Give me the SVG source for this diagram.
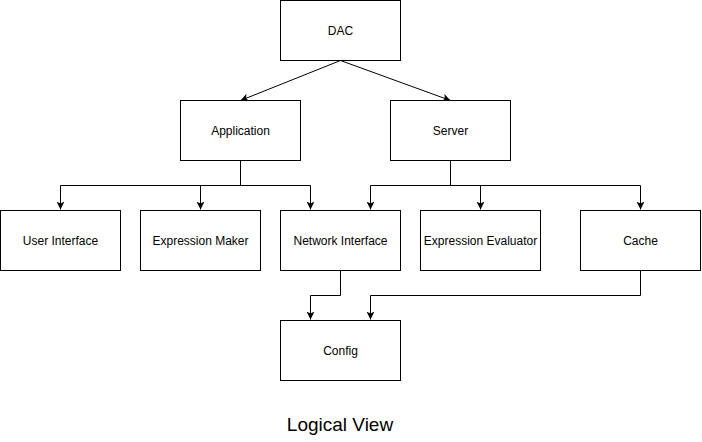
<svg xmlns="http://www.w3.org/2000/svg" width="702" height="442" viewBox="0 0 702 442">
<style>
.box{fill:#fff;stroke:#000;stroke-width:1}
.lbl{font-family:"Liberation Sans",Arial,sans-serif;font-size:12px;fill:#000;text-anchor:middle}
.edge{fill:none;stroke:#000;stroke-width:1}
.title{font-family:"Liberation Sans",Arial,sans-serif;font-size:19px;fill:#000;text-anchor:middle}
</style>
<defs>
<marker id="arr" viewBox="0 0 10 10" refX="10" refY="5" markerWidth="8" markerHeight="8" markerUnits="userSpaceOnUse" orient="auto">
<path d="M0,0 L10,5 L0,10 L2.5,5 Z" fill="#000"/>
</marker>
</defs>
<rect width="702" height="442" fill="#fff"/>
<g id="connectors">
<path class="edge" d="M340.5,60.5 L240.5,100.5" marker-end="url(#arr)"/>
<path class="edge" d="M340.5,60.5 L450.5,100.5" marker-end="url(#arr)"/>
<path class="edge" d="M240.5,160.5 V185.5 H60.5 V209.5" marker-end="url(#arr)"/>
<path class="edge" d="M240.5,185.5 H200.5 V209.5" marker-end="url(#arr)"/>
<path class="edge" d="M240.5,185.5 H310.5 V209.5" marker-end="url(#arr)"/>
<path class="edge" d="M450.5,160.5 V185.5 H370.5 V209.5" marker-end="url(#arr)"/>
<path class="edge" d="M450.5,185.5 H480.5 V209.5" marker-end="url(#arr)"/>
<path class="edge" d="M450.5,185.5 H640.5 V209.5" marker-end="url(#arr)"/>
<path class="edge" d="M340.5,270.5 V295.5 H310.5 V319.5" marker-end="url(#arr)"/>
<path class="edge" d="M640.5,270.5 V295.5 H370.5 V319.5" marker-end="url(#arr)"/>
</g>
<g id="dac"><rect class="box" x="280.5" y="0.5" width="120" height="60"/><text class="lbl" x="340.5" y="34.5">DAC</text></g>
<g id="application"><rect class="box" x="180.5" y="100.5" width="120" height="60"/><text class="lbl" x="240.5" y="134.5">Application</text></g>
<g id="server"><rect class="box" x="390.5" y="100.5" width="120" height="60"/><text class="lbl" x="450.5" y="134.5">Server</text></g>
<g id="user-interface"><rect class="box" x="0.5" y="210.5" width="120" height="60"/><text class="lbl" x="60.5" y="244.5">User Interface</text></g>
<g id="expression-maker"><rect class="box" x="140.5" y="210.5" width="120" height="60"/><text class="lbl" x="200.5" y="244.5">Expression Maker</text></g>
<g id="network-interface"><rect class="box" x="280.5" y="210.5" width="120" height="60"/><text class="lbl" x="340.5" y="244.5">Network Interface</text></g>
<g id="expression-evaluator"><rect class="box" x="420.5" y="210.5" width="120" height="60"/><text class="lbl" x="480.5" y="244.5">Expression Evaluator</text></g>
<g id="cache"><rect class="box" x="580.5" y="210.5" width="120" height="60"/><text class="lbl" x="640.5" y="244.5">Cache</text></g>
<g id="config"><rect class="box" x="280.5" y="320.5" width="120" height="60"/><text class="lbl" x="340.5" y="354.5">Config</text></g>
<text class="title" x="340" y="431">Logical View</text>
</svg>
